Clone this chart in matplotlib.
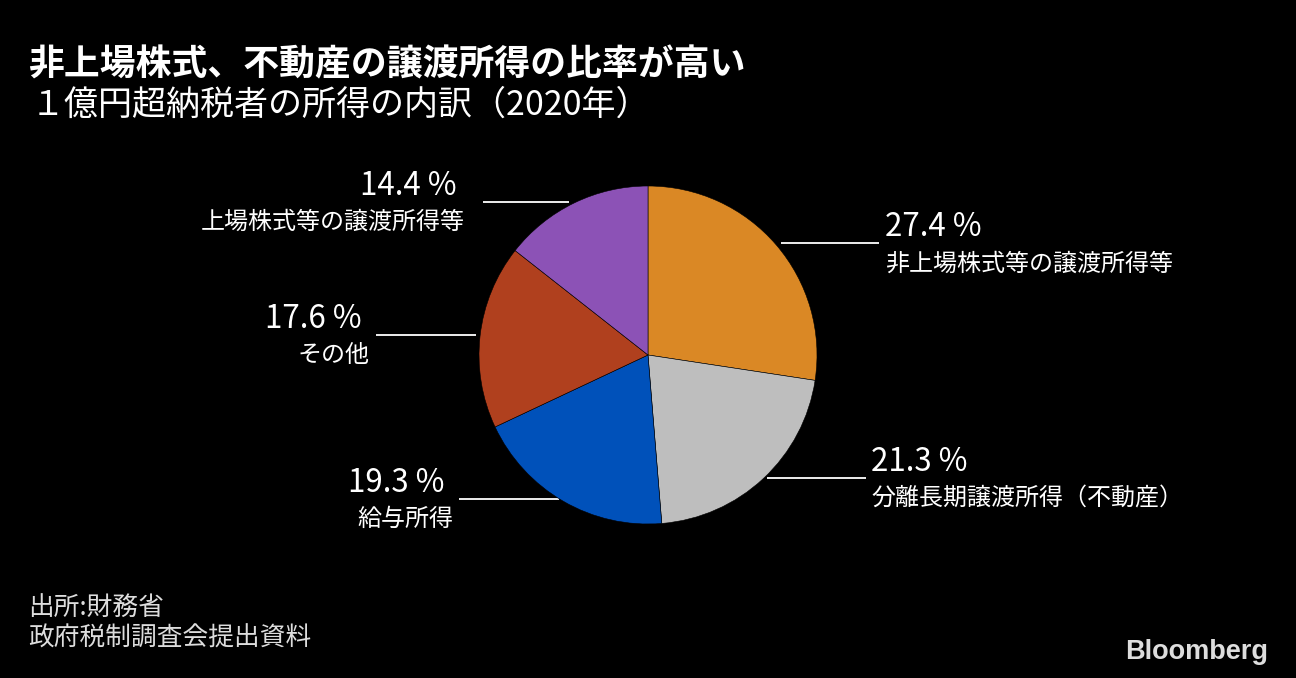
import matplotlib
matplotlib.use("Agg")
import matplotlib.pyplot as plt

plt.rcParams['font.family'] = ['Noto Sans CJK JP', 'DejaVu Sans']

categories = ["非上場株式等の譲渡所得等", "分離長期譲渡所得（不動産）", "給与所得", "その他", "上場株式等の譲渡所得等"]
values = [27.4, 21.3, 19.3, 17.6, 14.4]
colors = ["#DA8825", "#BEBEBE", "#0051BA", "#B0401E", "#8C52B6"]

title = "非上場株式、不動産の譲渡所得の比率が高い"
subtitle = "１億円超納税者の所得の内訳（2020年）"
source = "出所:財務省\n政府税制調査会提出資料"

W, H = 1296, 678
fig = plt.figure(figsize=(W / 100, H / 100), dpi=100, facecolor="black")

# overlay axes in pixel coordinates
ov = fig.add_axes([0, 0, 1, 1], facecolor="none")
ov.set_xlim(0, W)
ov.set_ylim(H, 0)
ov.axis("off")

# pie axes
cx, cy, r = 648, 355, 169
pa = fig.add_axes([(cx - r) / W, (H - cy - r) / H, 2 * r / W, 2 * r / H])
pa.pie(values, colors=colors, startangle=90, counterclock=False,
       wedgeprops=dict(edgecolor="black", linewidth=0.4))
pa.set_xlim(-1, 1)
pa.set_ylim(-1, 1)
pa.set_aspect("equal")
pa.axis("off")

# label layout: (line x0, line x1, line y, side, pct text offset, label offset)
layout = [
    (781, 879, 243, "right", 6, 6),
    (767, 866, 478, "right", 5, 5),
    (459, 559, 499, "left", 14, 6),
    (376, 476, 335, "left", 14, 6),
    (483, 569, 202, "left", 26, 18),
]

for (x0, x1, ly, side, dp, dl), cat, val in zip(layout, categories, values):
    ov.plot([x0, x1], [ly, ly], color="white", lw=1.3, solid_capstyle="butt")
    pct = f"{val:.1f} %"
    if side == "right":
        ov.text(x1 + dp, ly - 16, pct, color="white", fontsize=22.5, ha="left", va="center")
        ov.text(x1 + dl, ly + 21, cat, color="white", fontsize=17.3, ha="left", va="center")
    else:
        ov.text(x0 - dp, ly - 16, pct, color="white", fontsize=22.5, ha="right", va="center")
        ov.text(x0 - dl, ly + 20, cat, color="white", fontsize=17.3, ha="right", va="center")

ov.text(28, 65, title, color="white", fontsize=25.8, fontweight="bold", ha="left", va="center")
ov.text(31, 105, subtitle, color="white", fontsize=24.5, ha="left", va="center")
ov.text(28, 624, source, color="#DDDDDD", fontsize=18.5, ha="left", va="center", linespacing=1.2)
ov.text(1268, 652, "Bloomberg", color="#DDDDDD", fontsize=19.5, fontweight="bold",
        ha="right", va="center", family=["Liberation Sans", "DejaVu Sans"])

fig.savefig("out.png", dpi=100, facecolor="black")
